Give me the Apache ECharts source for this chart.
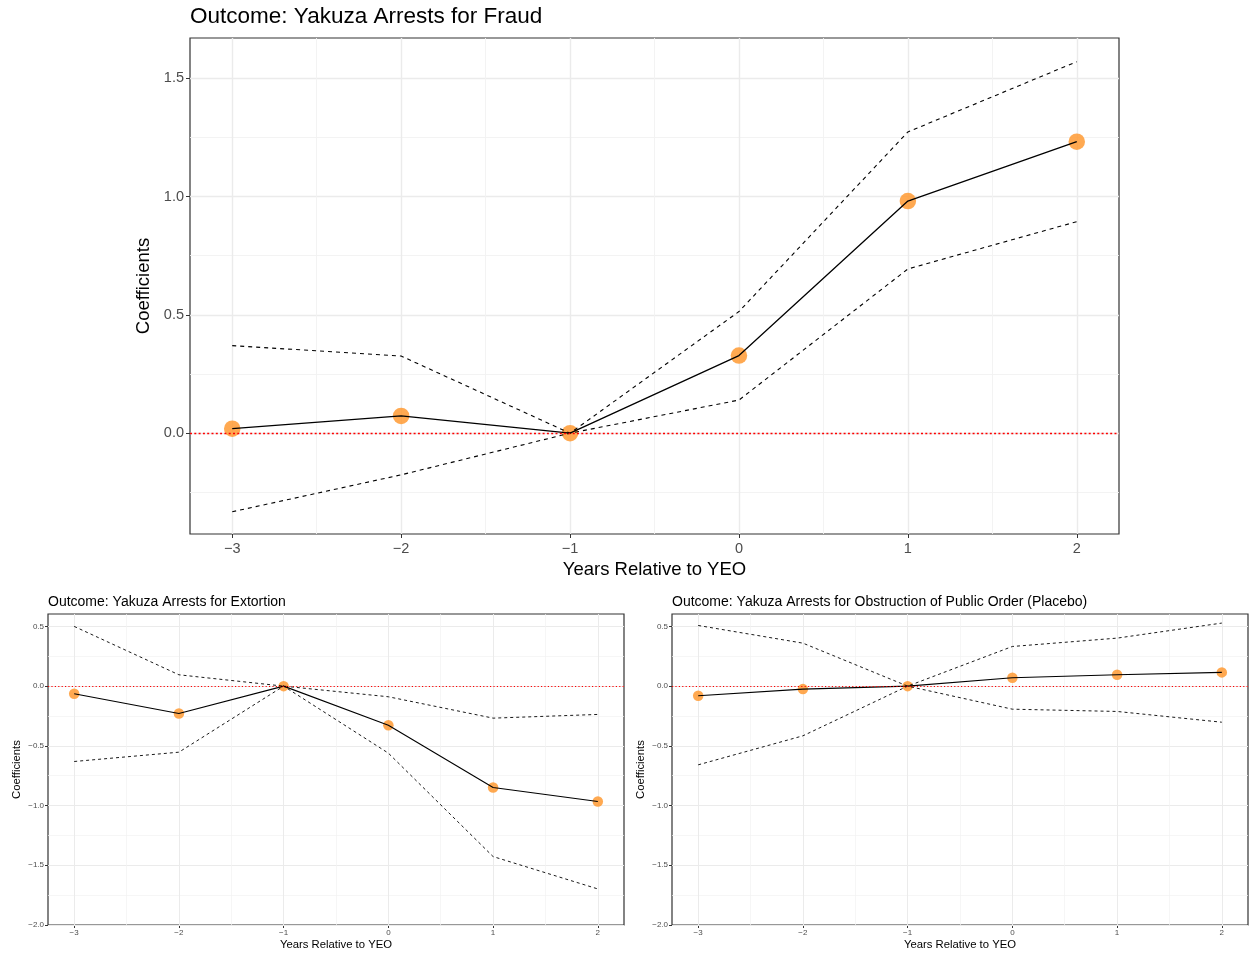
<!DOCTYPE html>
<html>
<head>
<meta charset="utf-8">
<script src="https://cdn.jsdelivr.net/npm/echarts@6/dist/echarts.min.js"></script>
<style>
  html, body { margin: 0; padding: 0; background: #fff; }
  #chart { width: 1249px; height: 955px; }
</style>
</head>
<body>
<div id="chart"></div>
<script>
// years relative to YEO
var years = [-3, -2, -1, 0, 1, 2];

// Fraud
var fraudCoef  = [0.019, 0.073, 0, 0.328, 0.981, 1.232];
var fraudUpper = [0.370, 0.326, 0, 0.514, 1.273, 1.570];
var fraudLower = [-0.332, -0.176, 0, 0.140, 0.694, 0.894];

// Extortion
var extCoef  = [-0.064, -0.229, 0, -0.327, -0.849, -0.966];
var extUpper = [0.500, 0.095, 0, -0.089, -0.268, -0.237];
var extLower = [-0.631, -0.553, 0, -0.561, -1.427, -1.698];

// Obstruction of public order (placebo)
var obsCoef  = [-0.081, -0.025, 0, 0.070, 0.095, 0.115];
var obsUpper = [0.508, 0.360, 0, 0.332, 0.402, 0.528];
var obsLower = [-0.659, -0.416, 0, -0.193, -0.212, -0.302];

// tick labels
var xTicks = [-3, -2, -1, 0, 1, 2];
var yTicksTop = [0, 0.5, 1.0, 1.5];
var yTicksBottom = [-2.0, -1.5, -1.0, -0.5, 0, 0.5];

var FONT = 'Liberation Sans, Arial, sans-serif';

function pairs(ys) {
  return years.map(function (x, i) { return [x, ys[i]]; });
}
function minus(s) { return s.replace('-', '\u2212'); }
function midpoints(arr) {
  var out = [];
  for (var i = 0; i < arr.length - 1; i++) out.push((arr[i] + arr[i + 1]) / 2);
  return out;
}

var panels = [
  { coef: fraudCoef, up: fraudUpper, lo: fraudLower, yTicks: yTicksTop, yMin: -0.426, yMax: 1.67,
    yMinor: [-0.25, 0.25, 0.75, 1.25], big: true },
  { coef: extCoef, up: extUpper, lo: extLower, yTicks: yTicksBottom, yMin: -2.0, yMax: 0.604,
    yMinor: midpoints(yTicksBottom), big: false },
  { coef: obsCoef, up: obsUpper, lo: obsLower, yTicks: yTicksBottom, yMin: -2.0, yMax: 0.604,
    yMinor: midpoints(yTicksBottom), big: false }
];

var grids = [
  { left: 190, top: 38, width: 929, height: 496 },
  { left: 48, top: 614, width: 576, height: 311 },
  { left: 672, top: 614, width: 576, height: 311 }
];
grids.forEach(function (g) {
  g.show = true; g.borderColor = '#333333'; g.borderWidth = 1.2; g.backgroundColor = '#fff';
});

var xAxes = [], yAxes = [], series = [];
var xMinor = midpoints(xTicks);

panels.forEach(function (p, k) {
  var tickFont = p.big ? 14.5 : 8;
  var nameFont = p.big ? 18.5 : 11.3;
  xAxes.push({
    type: 'value', gridIndex: k, min: -3.25, max: 2.25,
    name: 'Years Relative to YEO', nameLocation: 'middle', nameGap: p.big ? 24 : 14,
    nameTextStyle: { fontFamily: FONT, fontSize: nameFont, color: '#000' },
    axisLine: { show: false, onZero: false },
    axisTick: { show: true, customValues: xTicks, length: p.big ? 4 : 3, lineStyle: { color: '#333' } },
    axisLabel: { customValues: xTicks, fontFamily: FONT, fontSize: tickFont, color: '#4d4d4d',
      margin: p.big ? 7 : 4, formatter: function (v) { return minus(String(v)); } },
    splitLine: { show: false }
  });
  yAxes.push({
    type: 'value', gridIndex: k, min: p.yMin, max: p.yMax,
    name: 'Coefficients', nameLocation: 'middle', nameGap: p.big ? 33 : 26, nameRotate: 90,
    nameTextStyle: { fontFamily: FONT, fontSize: nameFont, color: '#000' },
    axisLine: { show: false, onZero: false },
    axisTick: { show: true, customValues: p.yTicks, length: p.big ? 4 : 3, lineStyle: { color: '#333' } },
    axisLabel: { customValues: p.yTicks, fontFamily: FONT, fontSize: tickFont, color: '#4d4d4d',
      margin: p.big ? 6 : 4, formatter: function (v) { return minus(v.toFixed(1)); } },
    splitLine: { show: false }
  });

  // background grid lines
  var gridLines = [];
  p.yTicks.forEach(function (v) { gridLines.push({ yAxis: v, lineStyle: { color: '#ebebeb', width: p.big ? 1.4 : 1 } }); });
  p.yMinor.forEach(function (v) { gridLines.push({ yAxis: v, lineStyle: { color: '#f2f2f2', width: p.big ? 0.9 : 0.7 } }); });
  xTicks.forEach(function (v) { gridLines.push({ xAxis: v, lineStyle: { color: '#ebebeb', width: p.big ? 1.4 : 1 } }); });
  xMinor.forEach(function (v) { gridLines.push({ xAxis: v, lineStyle: { color: '#f2f2f2', width: p.big ? 0.9 : 0.7 } }); });
  series.push({
    type: 'line', xAxisIndex: k, yAxisIndex: k, data: [], z: 1, silent: true,
    markLine: { z: 1, silent: true, symbol: ['none', 'none'], label: { show: false }, animation: false,
      lineStyle: { type: 'solid' }, data: gridLines }
  });

  series.push({
    type: 'scatter', xAxisIndex: k, yAxisIndex: k, data: pairs(p.coef), z: 2,
    symbolSize: p.big ? 16.5 : 10.5,
    itemStyle: { color: '#ff9a33', opacity: 0.85 }
  });
  series.push({
    type: 'line', xAxisIndex: k, yAxisIndex: k, data: pairs(p.coef), z: 3,
    symbol: 'none', lineStyle: { color: '#000', width: p.big ? 1.3 : 1.1 }
  });
  [p.up, p.lo].forEach(function (ci) {
    series.push({
      type: 'line', xAxisIndex: k, yAxisIndex: k, data: pairs(ci), z: 3,
      symbol: 'none', lineStyle: { color: '#000', width: p.big ? 1.1 : 0.9, type: p.big ? [4, 4] : [3, 3] }
    });
  });
  series.push({
    type: 'line', xAxisIndex: k, yAxisIndex: k, data: [], z: 4, silent: true,
    markLine: { z: 10, silent: true, symbol: ['none', 'none'], label: { show: false }, animation: false,
      data: [{ yAxis: 0, lineStyle: { color: '#ff0000', width: p.big ? 1.4 : 1.2, type: p.big ? [2, 2.3] : [1.2, 2.2], opacity: 1 } }] }
  });
});

var myChart = echarts.init(document.getElementById('chart'), null, { renderer: 'canvas' });
myChart.setOption({
  animation: false,
  backgroundColor: '#fff',
  title: [
    { text: 'Outcome: Yakuza Arrests for Fraud', left: 190, top: 5, padding: 0,
      textStyle: { fontFamily: FONT, fontSize: 22.5, fontWeight: 'normal', color: '#000' } },
    { text: 'Outcome: Yakuza Arrests for Extortion', left: 48, top: 595, padding: 0,
      textStyle: { fontFamily: FONT, fontSize: 14, fontWeight: 'normal', color: '#000' } },
    { text: 'Outcome: Yakuza Arrests for Obstruction of Public Order (Placebo)', left: 672, top: 595, padding: 0,
      textStyle: { fontFamily: FONT, fontSize: 14, fontWeight: 'normal', color: '#000' } }
  ],
  grid: grids,
  xAxis: xAxes,
  yAxis: yAxes,
  series: series
});
</script>
</body>
</html>
